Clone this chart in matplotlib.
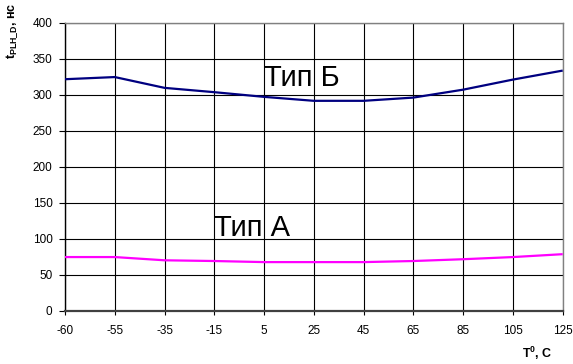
import matplotlib
matplotlib.use("Agg")
import matplotlib.pyplot as plt

plt.rcParams['font.family'] = ['Liberation Sans', 'DejaVu Sans']
plt.rcParams['mathtext.fontset'] = 'custom'
plt.rcParams['mathtext.rm'] = 'Liberation Sans'
plt.rcParams['mathtext.bf'] = 'Liberation Sans:bold'
plt.rcParams['mathtext.it'] = 'Liberation Sans:italic'

# Data
temps = ["-60", "-55", "-35", "-15", "5", "25", "45", "65", "85", "105", "125"]
type_b = [321.5, 324.5, 309.5, 303.5, 297, 291.5, 291.5, 296, 307, 321, 333.5]
type_a = [74.5, 74.5, 70, 69, 67.5, 67.5, 67.5, 69, 71.5, 74.5, 78.5]
yticks = [0, 50, 100, 150, 200, 250, 300, 350, 400]

W, H = 573, 364
fig = plt.figure(figsize=(W / 100, H / 100), dpi=100)
ax = fig.add_axes([65 / W, 1 - 310.7 / H, (562.7 - 65) / W, (310.7 - 22.7) / H])

x = list(range(len(temps)))
ax.plot(x, type_b, color='#000080', lw=1.6, solid_capstyle='butt', zorder=3)
ax.plot(x, type_a, color='#FF00FF', lw=1.6, solid_capstyle='butt', zorder=3)

ax.set_xlim(0, len(temps) - 1)
ax.set_ylim(0, 400)
ax.set_xticks(x)
ax.set_xticklabels(temps)
ax.set_yticks(yticks)

ax.grid(True, color='black', lw=0.8)
ax.set_axisbelow(True)

for s in ['top', 'right']:
    ax.spines[s].set_color('#808080')
    ax.spines[s].set_linewidth(1.0)
ax.spines['left'].set_color('black')
ax.spines['left'].set_linewidth(1.0)
ax.spines['bottom'].set_color('#404040')
ax.spines['bottom'].set_linewidth(1.6)

ax.tick_params(axis='y', direction='out', length=4, width=0.8, pad=5,
               labelsize=8.5, colors='black')
ax.tick_params(axis='x', direction='out', length=3, width=0.8, pad=7,
               labelsize=8.5, colors='black')

ax.text(4, 311.5, "Тип Б", fontsize=21, ha='left', va='baseline', zorder=4)
ax.text(3, 104.3, "Тип А", fontsize=21, ha='left', va='baseline', zorder=4)

fig.text(12 / W, 1 - 3 / H, r"$\mathbf{t}_{\mathbf{PLH\_D}}$, нс", rotation=90,
         ha='center', va='top', fontsize=9, fontweight='bold')
fig.text(537 / W, 1 - 358 / H, r"T$^{\mathbf{0}}$, С", ha='center', va='baseline',
         fontsize=9, fontweight='bold')

fig.savefig("out.png", dpi=100)
